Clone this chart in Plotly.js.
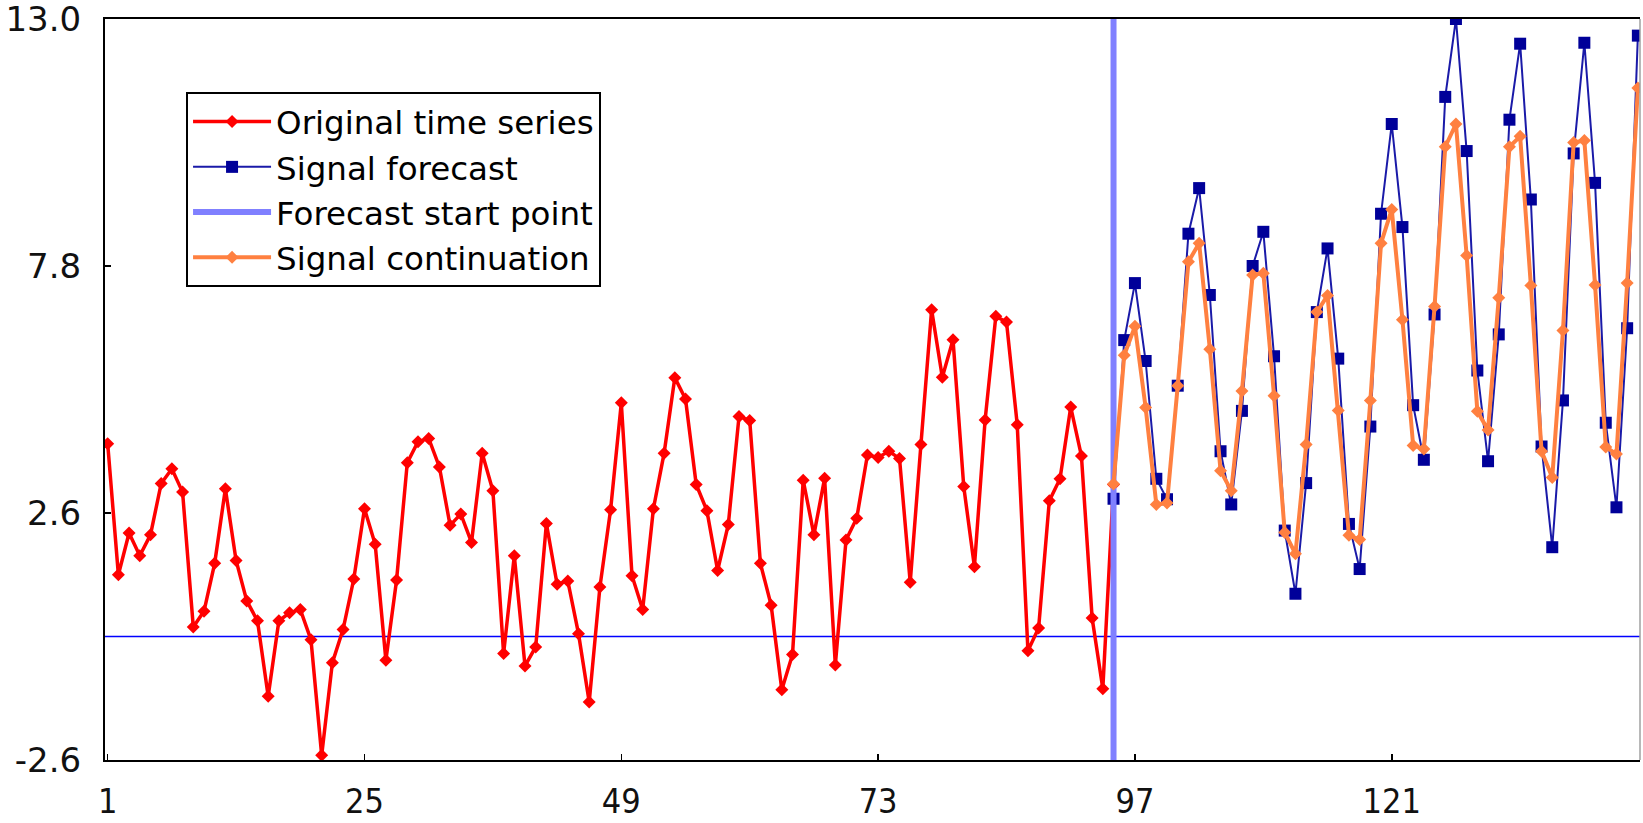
<!DOCTYPE html>
<html>
<head>
<meta charset="utf-8">
<script src="https://cdn.plot.ly/plotly-3.0.1.min.js"></script>
<style>
html,body{margin:0;padding:0;background:#ffffff;}
#chart{width:1643px;height:823px;}
</style>
</head>
<body>
<div id="chart"></div>
<script>
// ---- Data ----
const seriesNames = ["Original time series", "Signal forecast", "Forecast start point", "Signal continuation"];

// Original time series, points 1..95
const originalStartIndex = 1;
const originalSeries = [
  4.06, 1.30, 2.18, 1.70, 2.14, 3.22, 3.53, 3.04, 0.20, 0.53,
  1.54, 3.11, 1.60, 0.75, 0.33, -1.26, 0.33, 0.50, 0.57, -0.07,
  -2.50, -0.55, 0.15, 1.21, 2.69, 1.94, -0.50, 1.19, 3.66, 4.10,
  4.17, 3.57, 2.34, 2.58, 1.98, 3.86, 3.07, -0.36, 1.70, -0.62,
  -0.22, 2.38, 1.10, 1.17, 0.06, -1.38, 1.04, 2.67, 4.92, 1.28,
  0.57, 2.69, 3.86, 5.45, 5.00, 3.20, 2.65, 1.39, 2.36, 4.63,
  4.55, 1.54, 0.66, -1.12, -0.38, 3.29, 2.14, 3.33, -0.60, 2.03,
  2.49, 3.82, 3.77, 3.90, 3.75, 1.14, 4.04, 6.88, 5.46, 6.25,
  3.16, 1.47, 4.56, 6.74, 6.62, 4.46, -0.30, 0.18, 2.86, 3.32,
  4.83, 3.80, 0.39, -1.10, 3.20
];

// Forecast start point and forecast series, points 95..144
const forecastStartIndex = 95;
const signalForecast = [
  2.90, 6.24, 7.44, 5.80, 3.32, 2.89, 5.28, 8.48, 9.44, 7.19,
  3.90, 2.78, 4.75, 7.80, 8.52, 5.90, 2.23, 0.90, 3.23, 6.83,
  8.17, 5.85, 2.37, 1.42, 4.42, 8.90, 10.79, 8.62, 4.87, 3.72,
  6.78, 11.36, 13.00, 10.22, 5.60, 3.69, 6.36, 10.88, 12.48, 9.20,
  4.00, 1.88, 4.97, 10.17, 12.50, 9.55, 4.50, 2.72, 6.49, 12.65
];
const signalContinuation = [
  3.21, 5.92, 6.53, 4.82, 2.78, 2.81, 5.28, 7.89, 8.28, 6.05,
  3.49, 3.07, 5.17, 7.61, 7.65, 5.07, 2.19, 1.74, 4.04, 6.83,
  7.18, 4.76, 2.13, 2.04, 4.97, 8.28, 8.99, 6.67, 4.02, 3.95,
  6.95, 10.31, 10.79, 8.02, 4.74, 4.35, 7.13, 10.31, 10.53, 7.39,
  3.90, 3.35, 6.44, 10.40, 10.44, 7.40, 3.99, 3.84, 7.44, 11.55
];

// Axis ticks
const xTickLabels = [1, 25, 49, 73, 97, 121];
const yTickValues = [-2.6, 2.6, 7.8, 13.0];
const zeroLevel = 0;

// ---- Build traces ----
const idx = (arr, start) => arr.map((_, i) => start + i);
const yMin = yTickValues[0];
const yMax = yTickValues[yTickValues.length - 1];
const WIDE_FONT = "DejaVu Sans, Verdana, sans-serif";
const NARROW_FONT = "Liberation Sans Narrow, Arial Narrow, DejaVu Sans Condensed, Liberation Sans, Arial, sans-serif";

const traces = [
  {
    name: seriesNames[0],
    x: idx(originalSeries, originalStartIndex),
    y: originalSeries,
    type: "scatter",
    mode: "lines+markers",
    line: {color: "#ff0000", width: 3.5},
    marker: {symbol: "diamond", size: 10, color: "#ff0000"}
  },
  {
    name: seriesNames[1],
    x: idx(signalForecast, forecastStartIndex),
    y: signalForecast,
    type: "scatter",
    mode: "lines+markers",
    line: {color: "#1a1aa8", width: 2},
    marker: {symbol: "square", size: 12, color: "#000099"}
  },
  {
    name: seriesNames[2],
    x: [forecastStartIndex, forecastStartIndex],
    y: [yMin, yMax],
    type: "scatter",
    mode: "lines",
    line: {color: "#8080ff", width: 6}
  },
  {
    name: seriesNames[3],
    x: idx(signalContinuation, forecastStartIndex),
    y: signalContinuation,
    type: "scatter",
    mode: "lines+markers",
    line: {color: "#ff8040", width: 4},
    marker: {symbol: "diamond", size: 10, color: "#ff8040"}
  }
];

const layout = {
  width: 1643,
  height: 823,
  margin: {l: 105, r: 3, t: 19, b: 63},
  paper_bgcolor: "#ffffff",
  plot_bgcolor: "#ffffff",
  showlegend: true,
  xaxis: {
    range: [0.75, 144.2],
    tickmode: "array",
    tickvals: xTickLabels,
    ticktext: xTickLabels.map(String),
    ticks: "inside",
    ticklen: 6,
    tickwidth: 1.5,
    tickcolor: "#000000",
    showline: true,
    linecolor: "#000000",
    linewidth: 2,
    mirror: true,
    showgrid: false,
    zeroline: false,
    ticklabelstandoff: 10,
    ticklabeloverflow: "allow",
    tickfont: {family: NARROW_FONT, size: 34, color: "#111111"}
  },
  yaxis: {
    range: [yMin, yMax],
    tickmode: "array",
    tickvals: yTickValues,
    ticktext: yTickValues.map(v => v.toFixed(1)),
    ticks: "inside",
    ticklen: 6,
    tickwidth: 1.5,
    tickcolor: "#000000",
    showline: true,
    linecolor: "#000000",
    linewidth: 2,
    mirror: false,
    showgrid: false,
    zeroline: false,
    ticklabelstandoff: 15,
    ticklabeloverflow: "allow",
    tickfont: {family: WIDE_FONT, size: 34, color: "#111111"}
  },
  legend: {
    x: 0.0528,
    y: 0.9015,
    xanchor: "left",
    yanchor: "top",
    bgcolor: "#ffffff",
    bordercolor: "#000000",
    borderwidth: 2,
    itemwidth: 78,
    tracegroupgap: 0,
    font: {family: WIDE_FONT, size: 32.5, color: "#000000"}
  },
  shapes: [
    {
      type: "line", layer: "below",
      xref: "paper", x0: 0, x1: 1,
      yref: "y", y0: zeroLevel, y1: zeroLevel,
      line: {color: "#0000ff", width: 1.5}
    },
    {
      type: "line", layer: "above",
      xref: "paper", x0: 1, x1: 1,
      yref: "paper", y0: 0, y1: 1,
      line: {color: "#a0a0a0", width: 1.5}
    }
  ]
};

Plotly.newPlot("chart", traces, layout, {staticPlot: true, displayModeBar: false});
</script>
</body>
</html>
